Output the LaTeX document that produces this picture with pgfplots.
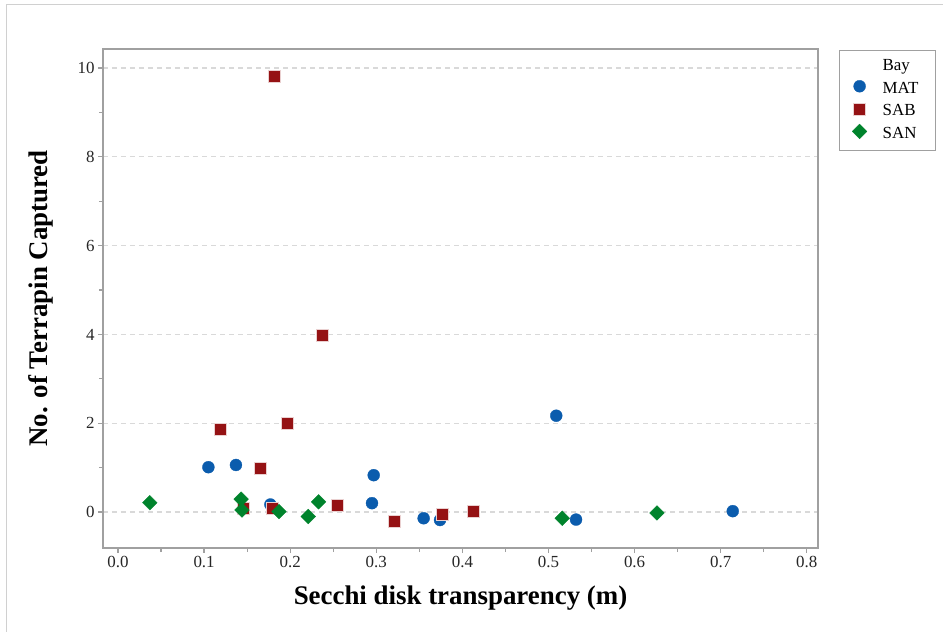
\documentclass[border=0pt]{standalone}
\usepackage{pgfplots}
\pgfplotsset{compat=1.18}
\usepackage{fontspec}
\setmainfont{Liberation Serif}
\definecolor{matblue}{HTML}{0B5CAD}
\definecolor{sabred}{HTML}{951214}
\definecolor{sangreen}{HTML}{00832C}
\definecolor{axgray}{HTML}{A0A0A0}
\definecolor{gridgray}{HTML}{D9D9D9}
\definecolor{framegray}{HTML}{D0D0D0}
\begin{document}
\begin{tikzpicture}
\useasboundingbox (-103bp,-84bp) rectangle (840bp,548bp);
\draw[framegray, line width=1bp] (-96bp,-84bp) -- (-96bp,543bp) -- (840bp,543bp);
\begin{axis}[
  scale only axis,
  width=715bp, height=499bp,
  xmin=-0.0174, xmax=0.813,
  ymin=-0.81, ymax=10.43,
  xtick={0,0.1,...,0.8},
  ytick={0,2,4,6,8,10},
  minor x tick num=1,
  minor y tick num=1,
  tick align=outside,
  major tick length=5bp,
  minor tick length=4bp,
  xtick pos=bottom, ytick pos=left,
  axis line style={axgray, line width=1.5bp},
  every tick/.style={axgray, line width=1.2bp},
  ymajorgrids,
  major grid style={gridgray, dash pattern=on 5bp off 4bp, line width=1.2bp},
  xticklabel style={/pgf/number format/.cd, fixed, fixed zerofill, precision=1},
  /pgf/number format/assume math mode=true,
  tick label style={font=\fontsize{17}{20}\selectfont, text=black!85},
  xlabel={Secchi disk transparency (m)},
  ylabel={No. of Terrapin Captured},
  label style={font=\fontsize{27}{32}\selectfont\bfseries},
  xlabel style={at={(axis description cs:0.5,-0.1142)}, anchor=base},
  ylabel style={at={(axis description cs:-0.0783,0.5)}, anchor=base},
  legend style={at={(1,1)}, anchor=north west, xshift=21bp, yshift=-1bp,
    draw=axgray, line width=1.2bp, font=\fontsize{17}{20}\selectfont,
    row sep=2.5bp, column sep=8.5bp, inner xsep=11.5bp, inner ysep=6bp,
    nodes={text height=12bp, text depth=4bp, inner ysep=2bp, inner xsep=6bp}},
  legend cell align=left,
  legend image code/.code={%
    \path[draw=none, fill=none] (0cm,-0.1cm) rectangle (0.6cm,0.1cm);
    \draw[#1] plot coordinates {(0.3cm,0.1cm)};},
]
\addlegendimage{empty legend}
\addlegendentry{Bay}
\addplot[only marks, mark=*, mark size=6bp, mark options={fill=matblue, draw=matblue, line width=0.3bp}] coordinates {
(0.105,1.01) (0.137,1.06) (0.177,0.17) (0.295,0.20) (0.297,0.83)
(0.355,-0.14) (0.374,-0.18) (0.509,2.17) (0.532,-0.17) (0.714,0.02)
};
\addlegendentry{MAT}
\addplot[only marks, mark=square*, mark size=6bp, mark options={fill=sabred, draw=white!80!sabred, line width=0.4bp}] coordinates {
(0.182,9.82) (0.119,1.87) (0.165,0.98) (0.196,2.01) (0.237,3.99)
(0.146,0.08) (0.179,0.08) (0.255,0.16) (0.321,-0.21) (0.376,-0.05) (0.413,0.01)
};
\addlegendentry{SAB}
\addplot[only marks, mark=square*, mark size=5.2bp, mark options={rotate=45, fill=sangreen, draw=sangreen, line width=0.3bp}] coordinates {
(0.037,0.21) (0.143,0.29) (0.144,0.045) (0.187,0.01) (0.221,-0.10)
(0.233,0.23) (0.516,-0.14) (0.626,-0.02)
};
\addlegendentry{SAN}
\end{axis}
\end{tikzpicture}
\end{document}
